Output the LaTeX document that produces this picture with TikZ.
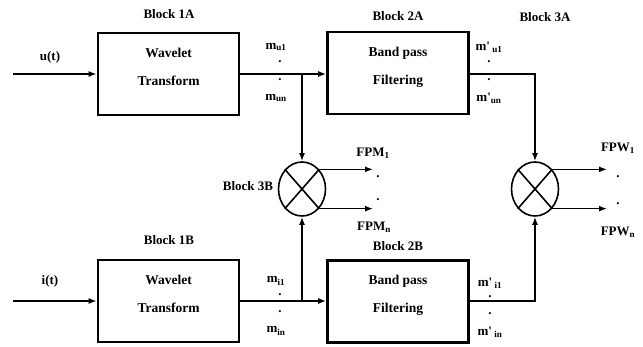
\documentclass[tikz,border=0pt]{standalone}
\usepackage{fontspec}
\setmainfont{Liberation Serif}
\usetikzlibrary{arrows.meta,shapes.geometric}
\tikzset{blockbox/.style={draw, line width=2.6pt, minimum width=141pt, minimum height=82pt},
  boxtext/.style={font=\fontsize{13.5}{15}\selectfont\bfseries, align=center},
  tag/.style={font=\fontsize{13}{15}\selectfont\bfseries, inner sep=0pt},
  mixer/.style={draw, ellipse, line width=1.6pt, minimum width=47pt, minimum height=54pt, inner sep=0pt},
  sig/.style={line width=1.5pt, -{Latex[length=8pt,width=6pt]}}}
\newcommand{\pr}{m\textquotesingle}

\begin{document}
\begin{tikzpicture}[x=1pt,y=-1pt]
  \useasboundingbox (0,0) rectangle (643,347);
  % boxes: 1A/2A on top, 1B/2B below
  \node[blockbox] (wtu) at (168.5,74) {};
  \node[blockbox] (bpu) at (398,73) {};
  \node[blockbox] (wti) at (168.5,301) {};
  \node[blockbox] (bpi) at (398,301.5) {};
  \node[boxtext] (wtut) at (168.5,67) {Wavelet\\[13pt]Transform};
  \node[boxtext] (bput) at (398,67) {Band pass\\[13pt]Filtering};
  \node[boxtext] (wtit) at (168.5,294) {Wavelet\\[13pt]Transform};
  \node[boxtext] (bpit) at (398,295) {Band pass\\[13pt]Filtering};
  % mixers 3B and 3A
  \node[mixer] (mixB) at (302,189) {};
  \node[mixer] (mixA) at (535,189) {};
  \draw[line width=1.6pt] (mixB.north west) -- (mixB.south east) (mixB.north east) -- (mixB.south west);
  \draw[line width=1.6pt] (mixA.north west) -- (mixA.south east) (mixA.north east) -- (mixA.south west);
  % block names
  \node[tag] (b1a) at (169,14) {Block 1A};
  \node[tag] (b2a) at (398,16) {Block 2A};
  \node[tag] (b3a) at (545,17) {Block 3A};
  \node[tag] (b1b) at (169,240) {Block 1B};
  \node[tag] (b2b) at (398,246) {Block 2B};
  \node[tag] (b3b) at (248,186) {Block 3B};
  % inputs
  \coordinate (uin) at (13,74);
  \coordinate (iin) at (13,301);
  \node[tag] (ut) at (50,57) {u(t)};
  \node[tag] (it) at (50,281) {i(t)};
  \draw[sig] (uin) -- (wtu.west);
  \draw[sig] (iin) -- (wti.west);
  % wavelet -> band pass, with taps to 3B
  \coordinate (ju) at (302,74);
  \coordinate (ji) at (302,301);
  \draw[sig] (wtu.east) -- (bpu.west |- wtu.east);
  \draw[sig] (wti.east) -- (bpi.west |- wti.east);
  \draw[sig] (ju) -- (mixB.north);
  \draw[sig] (ji) -- (mixB.south);
  % band pass -> 3A
  \draw[sig] (bpu.east |- ju) -| (mixA.north);
  \draw[sig] (bpi.east |- ji) -| (mixA.south);
  % outputs
  \coordinate (fpm1) at (373,171);
  \coordinate (fpmn) at (373,208);
  \coordinate (fpw1) at (607,171);
  \coordinate (fpwn) at (607,208);
  \draw[sig] (mixB.north east) -- (mixB.north east -| fpm1);
  \draw[sig] (mixB.south east) -- (mixB.south east -| fpmn);
  \draw[sig] (mixA.north east) -- (mixA.north east -| fpw1);
  \draw[sig] (mixA.south east) -- (mixA.south east -| fpwn);
  % signal labels
  \node[tag] (mu1) at (276,47) {m\textsubscript{u1}};
  \node[tag] (mud1) at (280,62) {.};
  \node[tag] (mud2) at (280,80) {.};
  \node[tag] (mun) at (276,98) {m\textsubscript{un}};
  \node[tag] (pu1) at (489,47) {\pr\,\textsubscript{u1}};
  \node[tag] (pud1) at (489,62) {.};
  \node[tag] (pud2) at (489,80) {.};
  \node[tag] (pun) at (489,98) {\pr\textsubscript{un}};
  \node[tag] (mi1) at (276,281) {m\textsubscript{i1}};
  \node[tag] (mid1) at (280,295) {.};
  \node[tag] (mid2) at (280,312) {.};
  \node[tag] (min) at (276,331) {m\textsubscript{in}};
  \node[tag] (pi1) at (490,283) {\pr\,\textsubscript{i1}};
  \node[tag] (pid1) at (490,297) {.};
  \node[tag] (pid2) at (490,314) {.};
  \node[tag] (pin) at (490,332) {\pr\,\textsubscript{in}};
  \node[tag] (FPM1) at (373,153) {FPM\textsubscript{1}};
  \node[tag] (FPMd1) at (378,177) {.};
  \node[tag] (FPMd2) at (378,200) {.};
  \node[tag] (FPMn) at (374,227) {FPM\textsubscript{n}};
  \node[tag] (FPW1) at (618,148) {FPW\textsubscript{1}};
  \node[tag] (FPWd1) at (618,177) {.};
  \node[tag] (FPWd2) at (618,204) {.};
  \node[tag] (FPWn) at (618,232) {FPW\textsubscript{n}};
\end{tikzpicture}
\end{document}
